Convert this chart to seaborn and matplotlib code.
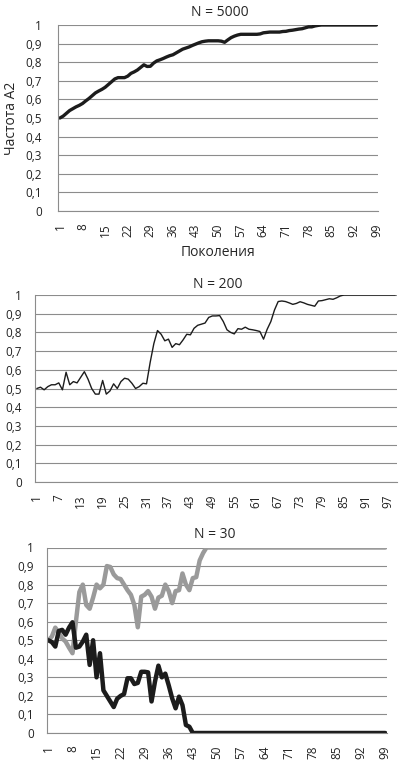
import numpy as np
import pandas as pd
import matplotlib
matplotlib.use("Agg")
import matplotlib.pyplot as plt
import seaborn as sns

# generations shown on the category axis
generations = list(range(1, 100))

# N = 5000, frequency of A2
freq_5000 = [
    0.50, 0.51, 0.525, 0.54, 0.55, 0.56, 0.568, 0.578, 0.592, 0.605,
    0.62, 0.635, 0.645, 0.654, 0.665, 0.68, 0.695, 0.71, 0.717, 0.717,
    0.717, 0.725, 0.74, 0.748, 0.758, 0.772, 0.786, 0.777, 0.778, 0.795,
    0.807, 0.813, 0.82, 0.828, 0.835, 0.84, 0.85, 0.86, 0.87, 0.876,
    0.882, 0.89, 0.897, 0.904, 0.91, 0.913, 0.915, 0.915, 0.915, 0.915,
    0.913, 0.907, 0.92, 0.932, 0.94, 0.946, 0.95, 0.95, 0.95, 0.95,
    0.95, 0.95, 0.952, 0.958, 0.96, 0.962, 0.962, 0.962, 0.962, 0.965,
    0.966, 0.97, 0.972, 0.975, 0.978, 0.98, 0.985, 0.99, 0.99, 0.995,
    0.998, 1.0, 1.0, 1.0, 1.0, 1.0, 1.0, 1.0, 1.0, 1.0,
    1.0, 1.0, 1.0, 1.0, 1.0, 1.0, 1.0, 1.0, 1.0,
]

# N = 200
freq_200 = [
    0.50, 0.507, 0.493, 0.51, 0.52, 0.52, 0.53, 0.493, 0.587, 0.52,
    0.537, 0.53, 0.56, 0.59, 0.55, 0.50, 0.47, 0.47, 0.543, 0.47,
    0.487, 0.525, 0.50, 0.537, 0.555, 0.55, 0.528, 0.50, 0.51, 0.528,
    0.525, 0.64, 0.74, 0.81, 0.79, 0.755, 0.764, 0.72, 0.74, 0.734,
    0.76, 0.79, 0.787, 0.822, 0.838, 0.844, 0.85, 0.88, 0.888, 0.888,
    0.89, 0.858, 0.814, 0.80, 0.792, 0.82, 0.817, 0.828, 0.817, 0.814,
    0.81, 0.805, 0.764, 0.817, 0.858, 0.92, 0.965, 0.968, 0.965, 0.958,
    0.95, 0.955, 0.964, 0.958, 0.95, 0.945, 0.94, 0.968, 0.97, 0.975,
    0.98, 0.977, 0.985, 0.995, 1.0, 1.0, 1.0, 1.0, 1.0, 1.0,
    1.0, 1.0, 1.0, 1.0, 1.0, 1.0, 1.0, 1.0, 1.0,
]

# N = 30, two runs
freq_30_grey = [
    0.50, 0.52, 0.568, 0.54, 0.51, 0.493, 0.46, 0.43, 0.60, 0.76,
    0.80, 0.69, 0.67, 0.73, 0.80, 0.78, 0.80, 0.90, 0.895, 0.855,
    0.835, 0.83, 0.80, 0.77, 0.745, 0.69, 0.57, 0.735, 0.745, 0.765,
    0.735, 0.67, 0.73, 0.74, 0.80, 0.765, 0.70, 0.765, 0.77, 0.86,
    0.80, 0.77, 0.835, 0.84, 0.93, 0.97, 1.0, 1.0, 1.0, 1.0,
    1.0, 1.0, 1.0, 1.0, 1.0, 1.0, 1.0, 1.0, 1.0, 1.0,
    1.0, 1.0, 1.0, 1.0, 1.0, 1.0, 1.0, 1.0, 1.0, 1.0,
    1.0, 1.0, 1.0, 1.0, 1.0, 1.0, 1.0, 1.0, 1.0, 1.0,
    1.0, 1.0, 1.0, 1.0, 1.0, 1.0, 1.0, 1.0, 1.0, 1.0,
    1.0, 1.0, 1.0, 1.0, 1.0, 1.0, 1.0, 1.0, 1.0,
]
freq_30_black = [
    0.50, 0.49, 0.466, 0.55, 0.556, 0.53, 0.568, 0.597, 0.46, 0.466,
    0.493, 0.53, 0.367, 0.50, 0.30, 0.43, 0.23, 0.20, 0.17, 0.14,
    0.185, 0.20, 0.21, 0.295, 0.295, 0.264, 0.27, 0.33, 0.33, 0.327,
    0.17, 0.277, 0.363, 0.30, 0.32, 0.257, 0.187, 0.133, 0.196, 0.15,
    0.043, 0.034, 0.0, 0.0, 0.0, 0.0, 0.0, 0.0, 0.0, 0.0,
    0.0, 0.0, 0.0, 0.0, 0.0, 0.0, 0.0, 0.0, 0.0, 0.0,
    0.0, 0.0, 0.0, 0.0, 0.0, 0.0, 0.0, 0.0, 0.0, 0.0,
    0.0, 0.0, 0.0, 0.0, 0.0, 0.0, 0.0, 0.0, 0.0, 0.0,
    0.0, 0.0, 0.0, 0.0, 0.0, 0.0, 0.0, 0.0, 0.0, 0.0,
    0.0, 0.0, 0.0, 0.0, 0.0, 0.0, 0.0, 0.0, 0.0,
]

y_ticks = [0, 0.1, 0.2, 0.3, 0.4, 0.5, 0.6, 0.7, 0.8, 0.9, 1.0]
y_labels = ["0", "0,1", "0,2", "0,3", "0,4", "0,5", "0,6", "0,7", "0,8", "0,9", "1"]

sns.set_style("white")
plt.rcParams['font.family'] = ['Open Sans', 'DejaVu Sans']

W, H = 407, 770
fig = plt.figure(figsize=(W / 100, H / 100), dpi=100)

GRID = '#8c8c8c'
BLACK = '#1c1c1c'
GREY = '#9a9a9a'


def make_axes(left, right, top, bottom):
    return fig.add_axes([left / W, 1 - bottom / H, (right - left) / W, (bottom - top) / H])


def style_axes(ax, label_step, ypad):
    ax.set_xlim(0.5, 99.5)
    ax.set_ylim(0, 1)
    ax.set_yticks(y_ticks)
    ax.set_yticklabels(y_labels)
    ticks = list(range(1, 100, label_step))
    ax.set_xticks(ticks)
    ax.set_xticklabels([str(t) for t in ticks], rotation=90)
    ax.set_xticks(np.arange(0.5, 100, 1.0), minor=True)
    ax.tick_params(axis='x', which='major', length=0, pad=9, labelsize=8.5, colors='#222222')
    ax.tick_params(axis='x', which='minor', length=3, width=0.7, color=GRID, direction='out')
    ax.tick_params(axis='y', length=3.3, width=0.8, color=GRID, direction='out',
                   pad=ypad, labelsize=8.5, labelcolor='#222222')
    ax.yaxis.grid(True, color=GRID, lw=0.8)
    ax.xaxis.grid(False)
    ax.set_axisbelow(True)
    for s in ('top', 'right'):
        ax.spines[s].set_visible(False)
    for s in ('left', 'bottom'):
        ax.spines[s].set_color(GRID)
        ax.spines[s].set_linewidth(0.8)
    ax.set_xlabel('')
    ax.set_ylabel('')
    leg = ax.get_legend()
    if leg is not None:
        leg.remove()


# panel 1: N = 5000
ax1 = make_axes(58.3, 378, 25, 211)
df1 = pd.DataFrame({'gen': generations, 'freq': freq_5000})
sns.lineplot(data=df1, x='gen', y='freq', ax=ax1, color=BLACK, lw=2.4)
style_axes(ax1, 7, 8.3)
fig.text(220 / W, 1 - 12 / H, 'N = 5000', ha='center', va='center', fontsize=10)
fig.text(12 / W, 1 - 118 / H, 'Частота A2', ha='center', va='center', rotation=90, fontsize=10)
fig.text(218 / W, 1 - 253 / H, 'Поколения', ha='center', va='center', fontsize=10)

# panel 2: N = 200
ax2 = make_axes(35, 397, 295, 482)
df2 = pd.DataFrame({'gen': generations, 'freq': freq_200})
sns.lineplot(data=df2, x='gen', y='freq', ax=ax2, color=BLACK, lw=1.0)
style_axes(ax2, 6, 6.1)
fig.text(218 / W, 1 - 284 / H, 'N = 200', ha='center', va='center', fontsize=10)

# panel 3: N = 30
ax3 = make_axes(46.7, 387, 547.5, 733)
df3 = pd.DataFrame({'gen': generations * 2,
                    'freq': freq_30_grey + freq_30_black,
                    'run': ['grey'] * len(generations) + ['black'] * len(generations)})
sns.lineplot(data=df3, x='gen', y='freq', hue='run', palette={'grey': GREY, 'black': BLACK},
             ax=ax3, lw=3.2, legend=False)
style_axes(ax3, 7, 6.1)
fig.text(215 / W, 1 - 534 / H, 'N = 30', ha='center', va='center', fontsize=10)

fig.savefig('out.png', dpi=100)
